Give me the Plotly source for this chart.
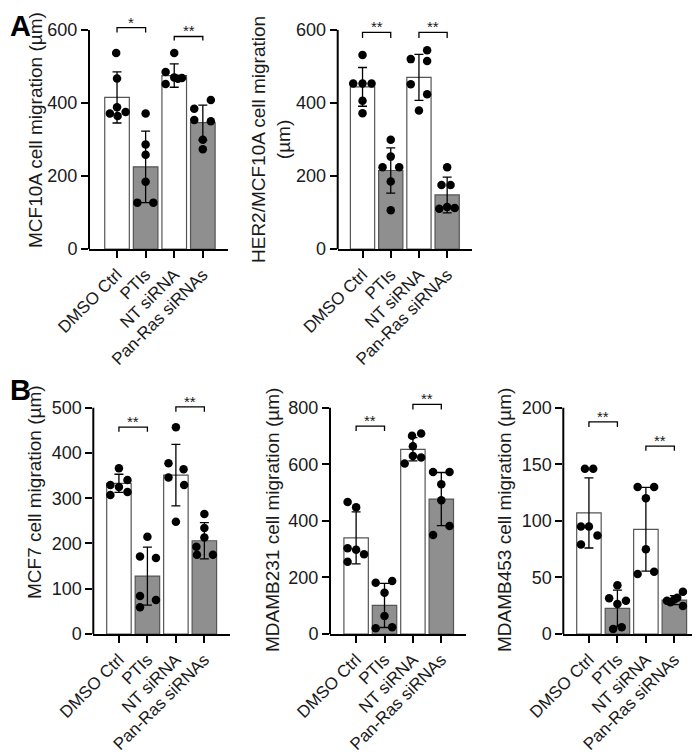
import plotly.graph_objects as go

W, H = 700, 754
PAGE_OFFSET = 8  # default body margin of the html page, in px

CATEGORIES = ["DMSO Ctrl", "PTIs", "NT siRNA", "Pan-Ras siRNAs"]

# ---- Panel A: MCF10A ----
MCF10A_POINTS = [[537, 467, 388, 375, 371, 364],
                 [371, 286, 258, 184, 127, 127],
                 [537, 485, 470, 468, 466, 452],
                 [408, 384, 353, 350, 299, 273]]
MCF10A_MEAN = [415, 225, 475, 346]
MCF10A_SD = [70, 98, 32, 48]

# ---- Panel A: HER2/MCF10A ----
HER2_POINTS = [[531, 453, 453, 453, 406, 372],
               [299, 253, 224, 224, 185, 106],
               [544, 520, 515, 451, 424, 379],
               [224, 175, 175, 110, 115, 112]]
HER2_MEAN = [444, 215, 470, 148]
HER2_SD = [53, 62, 63, 49]

# ---- Panel B: MCF7 ----
MCF7_POINTS = [[366, 340, 329, 325, 314, 307],
               [215, 171, 168, 84, 75, 59],
               [457, 377, 364, 346, 329, 248],
               [265, 234, 213, 193, 175, 175]]
MCF7_MEAN = [333, 128, 351, 206]
MCF7_SD = [20, 64, 68, 40]

# ---- Panel B: MDAMB231 ----
MDAMB231_POINTS = [[467, 448, 303, 298, 282, 255],
                   [187, 181, 146, 64, 20, 24],
                   [709, 701, 664, 629, 624, 603],
                   [573, 573, 529, 473, 382, 350]]
MDAMB231_MEAN = [340, 101, 653, 477]
MDAMB231_SD = [92, 78, 41, 94]

# ---- Panel B: MDAMB453 ----
MDAMB453_POINTS = [[146, 146, 95, 95, 87, 79],
                   [43, 31.5, 29.4, 26.5, 4.4, 5.9],
                   [130, 130, 120, 75, 53, 55],
                   [37.4, 29.4, 30.6, 32, 24.7, 28]]
MDAMB453_MEAN = [107, 22.7, 92.5, 30]
MDAMB453_SD = [31, 16, 37, 4]

# significance labels (pairs of categories)
SIG_A1 = [(0, 1, "*"), (2, 3, "**")]
SIG_OTHER = [(0, 1, "**"), (2, 3, "**")]

# ---- styling / layout (pixels) ----
JITTER = {
    "MCF10A": [[-0.03, 0.0, 0.0, 0.3, -0.25, 0.02],
               [0, 0, 0, 0, -0.29, 0.27],
               [0, -0.3, 0, 0.27, 0.13, -0.3],
               [0.28, -0.3, -0.3, 0.28, 0, 0]],
    "HER2": [[0, -0.33, 0, 0.32, 0, 0],
             [0, 0, -0.29, 0.3, 0, 0],
             [0.29, -0.29, 0.29, -0.29, 0.29, 0],
             [0, -0.2, 0.12, -0.28, 0, 0.27]],
    "MCF7": [[0, 0.3, -0.3, 0, 0.3, -0.3],
             [0, -0.26, 0.3, -0.26, 0.3, -0.26],
             [0, -0.26, 0.27, -0.26, 0.29, 0],
             [0, 0, 0, -0.28, -0.26, 0.3]],
    "MDAMB231": [[-0.3, 0, -0.3, 0, 0.28, -0.3],
                 [0.27, -0.31, 0, 0, -0.31, 0.27],
                 [0.29, -0.03, 0, 0, 0.29, -0.29],
                 [-0.29, 0.29, 0, 0, 0.29, -0.29]],
    "MDAMB453": [[-0.14, 0.15, -0.28, 0, 0.3, -0.28],
                 [0, -0.29, 0.3, 0, -0.15, 0.15],
                 [-0.29, 0.29, 0, 0, -0.29, 0.29],
                 [0.3, -0.26, 0, 0.1, 0.3, -0.14]],
}

PANELS = [
    dict(key="MCF10A", pts=MCF10A_POINTS, mean=MCF10A_MEAN, sd=MCF10A_SD,
         title="MCF10A cell migration (µm)", yticks=[0, 200, 400, 600], vmax=600, vext=660,
         xpx=(89, 228), xr=(-0.98, 3.88), ypx=(249, 24), title_xy=(35, 130),
         sig=SIG_A1, sigy=[(606, 593), (582, 571)]),
    dict(key="HER2", pts=HER2_POINTS, mean=HER2_MEAN, sd=HER2_SD,
         title="HER2/MCF10A cell migration<br>(µm)", yticks=[0, 200, 400, 600], vmax=600, vext=660,
         xpx=(337.7, 471.7), xr=(-0.88, 3.87), ypx=(249, 24), title_xy=(271, 140),
         sig=SIG_OTHER, sigy=[(593, 578), (593, 578)]),
    dict(key="MCF7", pts=MCF7_POINTS, mean=MCF7_MEAN, sd=MCF7_SD,
         title="MCF7 cell migration (µm)", yticks=[0, 100, 200, 300, 400, 500], vmax=500, vext=520,
         xpx=(93.3, 230), xr=(-0.9, 3.9), ypx=(634, 407.7), title_xy=(35, 492),
         sig=SIG_OTHER, sigy=[(457, 447), (502, 491)]),
    dict(key="MDAMB231", pts=MDAMB231_POINTS, mean=MDAMB231_MEAN, sd=MDAMB231_SD,
         title="MDAMB231 cell migration (µm)", yticks=[0, 200, 400, 600, 800], vmax=800, vext=832,
         xpx=(330, 466), xr=(-0.92, 3.87), ypx=(634, 407.7), title_xy=(272, 520),
         sig=SIG_OTHER, sigy=[(735, 718), (812, 794)]),
    dict(key="MDAMB453", pts=MDAMB453_POINTS, mean=MDAMB453_MEAN, sd=MDAMB453_SD,
         title="MDAMB453 cell migration (µm)", yticks=[0, 50, 100, 150, 200], vmax=200, vext=208,
         xpx=(563.3, 700), xr=(-0.9, 3.9), ypx=(634, 407.7), title_xy=(504, 520),
         sig=SIG_OTHER, sigy=[(187.5, 183), (166, 162)]),
]

FONT = "Liberation Sans, Arial, Helvetica, sans-serif"
TEXT_COLOR = "#1a1a1a"
TICK_SIZE = 18
CAT_SIZE = 17
TITLE_SIZE = 19
STAR_SIZE = 15
BAR_FILL = ["white", "#8f8f8f", "white", "#8f8f8f"]
BAR_LINE = "#555555"


def px_x(px):
    return (px - PAGE_OFFSET) / W


def px_y(py):
    return 1 - (py - PAGE_OFFSET) / H


fig = go.Figure()
layout = dict(width=W, height=H, margin=dict(l=0, r=0, t=0, b=0, autoexpand=False),
              paper_bgcolor="white", plot_bgcolor="rgba(0,0,0,0)",
              showlegend=False, font=dict(family=FONT, color=TEXT_COLOR))
shapes, annotations = [], []

for i, p in enumerate(PANELS, start=1):
    xa = "x" if i == 1 else f"x{i}"
    ya = "y" if i == 1 else f"y{i}"
    xkey = "xaxis" if i == 1 else f"xaxis{i}"
    ykey = "yaxis" if i == 1 else f"yaxis{i}"

    fig.add_trace(go.Bar(
        x=list(range(len(CATEGORIES))), y=p["mean"], width=0.86,
        marker=dict(color=BAR_FILL, line=dict(color=BAR_LINE, width=1.2)),
        error_y=dict(type="data", array=p["sd"], visible=True, color="black",
                     thickness=1.3, width=4.5),
        xaxis=xa, yaxis=ya, hoverinfo="skip"))

    xs, ys = [], []
    for c, (vals, jit) in enumerate(zip(p["pts"], JITTER[p["key"]])):
        for v, j in zip(vals, jit):
            xs.append(c + j)
            ys.append(v)
    fig.add_trace(go.Scatter(
        x=xs, y=ys, mode="markers", cliponaxis=False,
        marker=dict(color="black", size=8.5, line=dict(width=0)),
        xaxis=xa, yaxis=ya, hoverinfo="skip"))

    x0p, x1p = p["xpx"]
    y0p, ytp = p["ypx"]
    ytop_px = y0p - (y0p - ytp) * p["vext"] / p["vmax"]
    layout[xkey] = dict(
        domain=[max(0, px_x(x0p)), min(1, px_x(x1p))], range=list(p["xr"]), anchor=ya,
        automargin=False,
        tickmode="array", tickvals=list(range(len(CATEGORIES))), ticktext=CATEGORIES,
        tickangle=-45, ticks="outside", ticklen=7, tickwidth=2, tickcolor="black",
        showline=True, linewidth=2, linecolor="black", showgrid=False, zeroline=False,
        tickfont=dict(family=FONT, size=CAT_SIZE, color=TEXT_COLOR), fixedrange=True)
    layout[ykey] = dict(
        domain=[px_y(y0p), min(1, px_y(ytop_px))], range=[0, p["vext"]], anchor=xa,
        automargin=False,
        tickmode="array", tickvals=p["yticks"], ticks="outside", ticklen=7, tickwidth=2,
        tickcolor="black", showline=False, showgrid=False, zeroline=False,
        tickfont=dict(family=FONT, size=TICK_SIZE, color=TEXT_COLOR), fixedrange=True)

    # y axis line up to top tick
    shapes.append(dict(type="line", xref=f"{xa} domain", yref=ya, x0=0, x1=0,
                       y0=0, y1=p["vmax"], line=dict(color="black", width=2)))

    # significance brackets
    for (a, b, lab), (yl, yt) in zip(p["sig"], p["sigy"]):
        shapes.append(dict(type="path", xref=xa, yref=ya,
                           path=f"M {a},{yt} L {a},{yl} L {b},{yl} L {b},{yt}",
                           line=dict(color="black", width=1.3)))
        annotations.append(dict(x=(a + b) / 2, y=yl, xref=xa, yref=ya, text=lab,
                                showarrow=False, yanchor="bottom", yshift=-5,
                                font=dict(family=FONT, size=STAR_SIZE, color=TEXT_COLOR)))

    tx, ty = p["title_xy"]
    annotations.append(dict(x=px_x(tx), y=px_y(ty), xref="paper", yref="paper",
                            text=p["title"], textangle=-90, showarrow=False,
                            xanchor="center", yanchor="middle",
                            font=dict(family=FONT, size=TITLE_SIZE, color=TEXT_COLOR)))

# panel letters
annotations.append(dict(x=px_x(8), y=px_y(8), xref="paper", yref="paper", text="<b>A</b>",
                        showarrow=False, xanchor="left", yanchor="top",
                        font=dict(family=FONT, size=29, color="black")))
annotations.append(dict(x=px_x(8), y=px_y(372), xref="paper", yref="paper", text="<b>B</b>",
                        showarrow=False, xanchor="left", yanchor="top",
                        font=dict(family=FONT, size=29, color="black")))

layout["shapes"] = shapes
layout["annotations"] = annotations
fig.update_layout(**layout)
fig.write_html("out.html")
